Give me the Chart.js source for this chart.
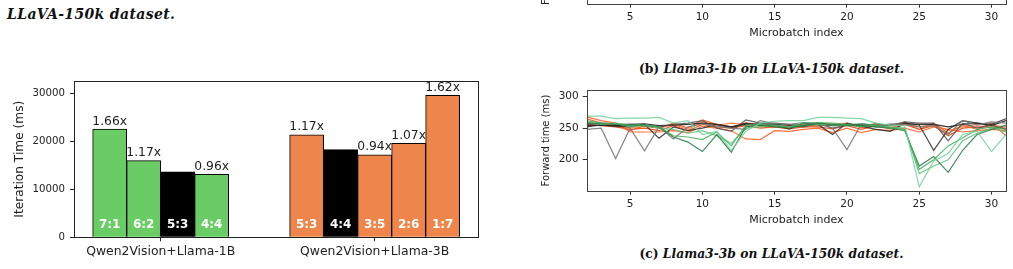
<!DOCTYPE html>
<html><head><meta charset="utf-8">
<script src="https://cdn.jsdelivr.net/npm/chart.js@4.4.1/dist/chart.umd.min.js"></script>
<style>
html,body{margin:0;padding:0;background:#fff;width:1013px;height:269px;overflow:hidden;position:relative}
canvas{position:absolute;display:block}
.cap{position:absolute;font-family:"DejaVu Serif",serif;font-weight:bold;font-style:italic;color:#111;white-space:nowrap;line-height:15px}
.cap span{font-style:normal}
</style></head><body>
<div class="cap" style="left:7px;top:7px;font-size:14px;letter-spacing:0.35px">LLaVA-150k dataset.</div>
<div class="cap" style="left:530px;width:483px;text-align:center;top:60.5px;font-size:12.3px"><span>(b)</span> Llama3-1b on LLaVA-150k dataset.</div>
<div class="cap" style="left:530px;width:483px;text-align:center;top:245.5px;font-size:12.3px"><span>(c)</span> Llama3-3b on LLaVA-150k dataset.</div>
<canvas id="bar" width="490" height="199" style="left:0;top:70px"></canvas>
<canvas id="lineB" width="483" height="150" style="left:530px;top:-107.4px"></canvas>
<canvas id="lineC" width="483" height="150" style="left:530px;top:80px"></canvas>
<script>
// ---------------- data ----------------
const groups = ['Qwen2Vision+Llama-1B', 'Qwen2Vision+Llama-3B'];
const ratios1B = ['7:1', '6:2', '5:3', '4:4'];
const times1B = [22600, 16000, 13650, 13150];
const speedup1B = ['1.66x', '1.17x', '', '0.96x'];
const baseline1B = '5:3';
const ratios3B = ['5:3', '4:4', '3:5', '2:6', '1:7'];
const times3B = [21400, 18300, 17200, 19600, 29650];
const speedup3B = ['1.17x', '', '0.94x', '1.07x', '1.62x'];
const baseline3B = '4:4';
const iterTicks = [0, 10000, 20000, 30000];

const microbatch = [2,3,4,5,6,7,8,9,10,11,12,13,14,15,16,17,18,19,20,21,22,23,24,25,26,27,28,29,30,31];
const greenA = [269,269,265,266,266,267,258,262,240,245,215,245,258,261,262,262,267,267,266,265,258,255,254,157,198,210,240,245,213,240];
const greenB = [262,258,257,255,255,252,238,236,232,244,222,255,256,255,252,258,259,258,256,257,255,250,248,185,200,222,235,248,252,248];
const greenC = [258,257,256,254,255,252,236,228,213,240,212,252,255,252,250,254,258,256,255,254,252,250,246,190,205,180,215,240,248,255];
const greenD = [260,256,258,252,254,250,248,242,246,238,226,250,252,254,252,255,256,255,254,253,254,252,250,178,190,200,230,242,250,244];
const grayA  = [248,250,202,250,214,252,233,252,257,253,250,248,262,257,256,259,257,250,216,257,255,256,256,252,254,240,262,255,260,258];
const grayB  = [252,255,253,252,256,234,252,246,250,256,251,258,254,255,249,258,256,240,258,253,248,245,258,255,215,248,262,258,256,265];
const grayC  = [256,258,257,256,254,252,256,258,262,250,245,263,258,258,256,252,258,250,255,256,252,254,260,258,258,230,258,250,255,248];
const grayD  = [254,255,254,256,257,254,255,256,258,256,252,256,257,256,255,255,256,254,255,256,255,256,257,256,256,252,256,258,254,262];
const orangeA = [268,262,258,244,244,244,246,243,253,250,246,233,232,246,245,248,250,243,250,243,248,246,250,244,252,248,244,246,248,246];
const orangeB = [265,258,257,246,254,250,258,250,263,256,252,258,256,252,254,252,255,255,258,251,258,250,260,248,258,242,255,248,258,238];
const orangeC = [258,257,255,250,253,250,256,248,260,255,258,256,253,254,252,255,258,256,256,254,256,254,258,252,256,246,252,256,255,252];
const orangeD = [256,254,252,248,250,246,254,246,256,252,250,254,250,252,249,252,252,249,254,248,254,249,256,248,254,238,250,252,252,250];
const xTicks = [5, 10, 15, 20, 25, 30];
const fwdTicks = [200, 250, 300];

// ---------------- helpers ----------------
const FONT = '"DejaVu Sans", sans-serif';
const frame = (color) => ({
  id: 'frame',
  afterDatasetsDraw(chart) {
    const a = chart.chartArea, ctx = chart.ctx;
    ctx.save();
    ctx.strokeStyle = color; ctx.lineWidth = 1;
    ctx.strokeRect(Math.round(a.left) + 0.5, Math.round(a.top) + 0.5, Math.round(a.right) - Math.round(a.left), Math.round(a.bottom) - Math.round(a.top));
    ctx.restore();
  }
});
const fixTicks = (list) => (scale) => { scale.ticks = list.map(v => ({ value: v })); };

// ---------------- bar chart ----------------
const GREEN = '#6acc64', ORANGE = '#ee854a';
const barSets = [];
ratios1B.forEach((r, i) => barSets.push({
  label: r, speed: speedup1B[i],
  data: [{ x: 0, y: times1B[i] }, { x: 1, y: null }],
  backgroundColor: r === baseline1B ? '#000' : GREEN
}));
ratios3B.forEach((r, i) => barSets.push({
  label: r, speed: speedup3B[i],
  data: [{ x: 0, y: null }, { x: 1, y: times3B[i] }],
  backgroundColor: r === baseline3B ? '#000' : ORANGE
}));
barSets.forEach(d => { d.borderColor = '#000'; d.borderWidth = 1; });

const barLabels = {
  id: 'barLabels',
  afterDatasetsDraw(chart) {
    const ctx = chart.ctx;
    chart.data.datasets.forEach((ds, di) => {
      const meta = chart.getDatasetMeta(di);
      meta.data.forEach((bar, i) => {
        if (ds.data[i].y == null) return;
        ctx.save();
        ctx.textAlign = 'center';
        ctx.fillStyle = '#fff';
        ctx.font = 'bold 12px ' + FONT;
        ctx.textBaseline = 'middle';
        ctx.fillText(ds.label, bar.x, bar.base - 11.5);
        if (ds.speed) {
          ctx.fillStyle = '#222';
          ctx.font = '12.3px ' + FONT;
          ctx.textBaseline = 'alphabetic';
          ctx.fillText(ds.speed, bar.x, bar.y - 4.5);
        }
        ctx.restore();
      });
    });
  }
};

new Chart(document.getElementById('bar'), {
  type: 'bar',
  data: { datasets: barSets },
  options: {
    responsive: false, animation: false, devicePixelRatio: 1,
    skipNull: true, barThickness: 34,
    layout: { padding: { left: 0, top: 10.7, right: 12, bottom: 0 } },
    plugins: { legend: { display: false }, tooltip: { enabled: false } },
    scales: {
      x: {
        type: 'linear', min: -0.405, max: 1.483, offset: false,
        afterBuildTicks: fixTicks([0, 1]),
        afterFit: s => { s.height = 31.7; },
        ticks: { callback: v => groups[v], font: { family: FONT, size: 12.4 }, color: '#222', padding: 3.5, maxRotation: 0 },
        grid: { offset: false, drawOnChartArea: false, tickLength: 4, tickColor: '#222' },
        border: { display: false }
      },
      y: {
        min: 0, max: 32600,
        afterBuildTicks: fixTicks(iterTicks),
        afterFit: s => { s.width = 74; },
        ticks: { callback: v => String(v), font: { family: FONT, size: 10.2 }, color: '#222', padding: 5 },
        grid: { drawOnChartArea: false, tickLength: 4, tickColor: '#222' },
        border: { display: false },
        title: { display: true, text: 'Iteration Time (ms)', font: { family: FONT, size: 12.2 }, color: '#222', padding: { top: 12.5, bottom: 0 } }
      }
    }
  },
  plugins: [barLabels, frame('#222')]
});

// ---------------- line charts ----------------
const lineSeries = [
  ['greens A', greenA, 'rgba(110,210,150,0.85)'],
  ['greens B', greenB, 'rgba(65,171,93,0.85)'],
  ['greens C', greenC, 'rgba(35,120,65,0.85)'],
  ['greens D', greenD, 'rgba(90,190,120,0.85)'],
  ['grays A', grayA, 'rgba(120,120,120,0.9)'],
  ['grays B', grayB, 'rgba(40,40,40,0.85)'],
  ['grays C', grayC, 'rgba(80,80,80,0.85)'],
  ['grays D', grayD, 'rgba(20,20,20,0.85)'],
  ['oranges A', orangeA, 'rgba(255,100,40,0.9)'],
  ['oranges B', orangeB, 'rgba(240,90,30,0.9)'],
  ['oranges C', orangeC, 'rgba(255,130,70,0.9)'],
  ['oranges D', orangeD, 'rgba(230,70,20,0.9)']
];

function lineOptions(padTop) {
  return {
    responsive: false, animation: false, devicePixelRatio: 1,
    layout: { padding: { left: 0, top: padTop, right: 7, bottom: 0 } },
    plugins: { legend: { display: false }, tooltip: { enabled: false } },
    elements: { point: { radius: 0 }, line: { borderWidth: 1.2, tension: 0 } },
    scales: {
      x: {
        type: 'linear', min: 2, max: 31,
        afterBuildTicks: fixTicks(xTicks),
        afterFit: s => { s.height = 39.3; },
        ticks: { font: { family: FONT, size: 10.5 }, color: '#222', padding: 3.4, maxRotation: 0 },
        grid: { drawOnChartArea: false, tickLength: 4, tickColor: '#333' },
        border: { display: false },
        title: { display: true, text: 'Microbatch index', font: { family: FONT, size: 11 }, color: '#222', padding: { top: 0, bottom: 3.4 } }
      },
      y: {
        min: 151, max: 310,
        afterBuildTicks: fixTicks(fwdTicks),
        afterFit: s => { s.width = 56.7; },
        ticks: { font: { family: FONT, size: 10.5 }, color: '#222', padding: 4 },
        grid: { drawOnChartArea: false, tickLength: 4, tickColor: '#333' },
        border: { display: false },
        title: { display: true, text: 'Forward time (ms)', font: { family: FONT, size: 10 }, color: '#222', padding: { top: 10.7, bottom: 0 } }
      }
    }
  };
}

const lineData = {
  datasets: lineSeries.map(([name, vals, col]) => ({
    label: name,
    data: vals.map((v, i) => ({ x: microbatch[i], y: v })),
    borderColor: col, backgroundColor: col, fill: false
  }))
};

new Chart(document.getElementById('lineC'), {
  type: 'line', data: lineData, options: lineOptions(7.3), plugins: [frame('#444')]
});
new Chart(document.getElementById('lineB'), {
  type: 'line', data: { datasets: [] }, options: lineOptions(21.3), plugins: [frame('#444')]
});
</script>
</body></html>
